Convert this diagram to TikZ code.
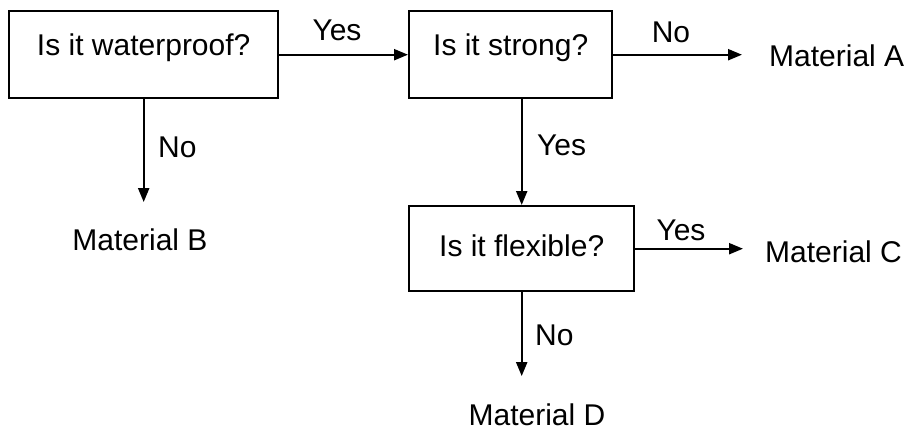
\documentclass[tikz,border=0pt]{standalone}
\usepackage{fontspec}
\setmainfont{Liberation Sans}
\usetikzlibrary{arrows.meta}
\begin{document}
\begin{tikzpicture}[x=1pt,y=-1pt,
  every node/.style={font=\fontsize{30}{36}\selectfont, inner sep=0pt},
  qbox/.style={draw, line width=2.4pt, anchor=north west, align=center},
  arr/.style={line width=2.2pt, -{Triangle[length=14pt,width=11pt]}},
  lbl/.style={anchor=base},
  lblw/.style={anchor=base west}
]
\useasboundingbox (0,0) rectangle (910,431);
% question boxes
\node[qbox, minimum width=269pt, text height=44pt, text depth=43pt] (b1) at (8,10) {Is it waterproof?};
\node[qbox, minimum width=203pt, text height=44pt, text depth=43pt] (b2) at (408,10) {Is it strong?};
\node[qbox, minimum width=225pt, text height=50pt, text depth=35pt] (b3) at (408,205) {Is it flexible?};
% outcomes
\node[anchor=base west] (mA) at (769,66) {Material A};
\node[anchor=base] (mB) at (140,250) {Material B};
\node[anchor=base west] (mC) at (765,262) {Material C};
\node[anchor=base] (mD) at (537,425) {Material D};
% connectors
\draw[arr] (b1.east) -- (b2.west);
\draw[arr] (b2.east) -- ([xshift=-27pt]b2.east -| mA.west);
\draw[arr] (b1.south) -- ([yshift=26pt]b1.south |- mB.north);
\draw[arr] (b3.north |- b2.south) -- (b3.north);
\draw[arr] (b3.east) -- ([xshift=-22pt]b3.east -| mC.west);
\draw[arr] (b3.south) -- ([yshift=27pt]b3.south |- mD.north);
% connector labels
\node[lbl] (l1) at (337,40) {Yes};
\node[lbl] (l2) at (671,42) {No};
\node[lblw] (l3) at (158,157) {No};
\node[lblw] (l4) at (537,155) {Yes};
\node[lbl] (l5) at (681,240) {Yes};
\node[lblw] (l6) at (535,345) {No};
\end{tikzpicture}
\end{document}
